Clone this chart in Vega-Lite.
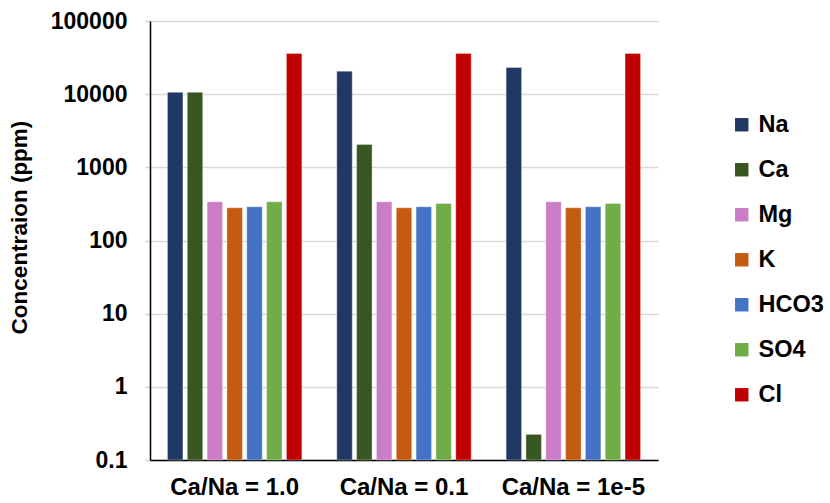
{
  "$schema": "https://vega.github.io/schema/vega-lite/v6.json",
  "autosize": "none",
  "width": 508,
  "height": 439,
  "padding": {"left": 150, "top": 21, "right": 172, "bottom": 43},
  "background": "white",
  "config": {
    "font": "Liberation Sans",
    "view": {"stroke": null}
  },
  "data": {
    "values": [
      {"ratio": "Ca/Na = 1.0", "ion": "Na", "ppm": 10600},
      {"ratio": "Ca/Na = 1.0", "ion": "Ca", "ppm": 10600},
      {"ratio": "Ca/Na = 1.0", "ion": "Mg", "ppm": 338},
      {"ratio": "Ca/Na = 1.0", "ion": "K", "ppm": 280},
      {"ratio": "Ca/Na = 1.0", "ion": "HCO3", "ppm": 289},
      {"ratio": "Ca/Na = 1.0", "ion": "SO4", "ppm": 338},
      {"ratio": "Ca/Na = 1.0", "ion": "Cl", "ppm": 36000},
      {"ratio": "Ca/Na = 0.1", "ion": "Na", "ppm": 20600},
      {"ratio": "Ca/Na = 0.1", "ion": "Ca", "ppm": 2055},
      {"ratio": "Ca/Na = 0.1", "ion": "Mg", "ppm": 338},
      {"ratio": "Ca/Na = 0.1", "ion": "K", "ppm": 280},
      {"ratio": "Ca/Na = 0.1", "ion": "HCO3", "ppm": 289},
      {"ratio": "Ca/Na = 0.1", "ion": "SO4", "ppm": 321},
      {"ratio": "Ca/Na = 0.1", "ion": "Cl", "ppm": 36000},
      {"ratio": "Ca/Na = 1e-5", "ion": "Na", "ppm": 23200},
      {"ratio": "Ca/Na = 1e-5", "ion": "Ca", "ppm": 0.224},
      {"ratio": "Ca/Na = 1e-5", "ion": "Mg", "ppm": 338},
      {"ratio": "Ca/Na = 1e-5", "ion": "K", "ppm": 280},
      {"ratio": "Ca/Na = 1e-5", "ion": "HCO3", "ppm": 289},
      {"ratio": "Ca/Na = 1e-5", "ion": "SO4", "ppm": 321},
      {"ratio": "Ca/Na = 1e-5", "ion": "Cl", "ppm": 36000}
    ]
  },
  "mark": {"type": "bar", "stroke": "#ffffff", "strokeOpacity": 0.35, "strokeWidth": 1},
  "encoding": {
    "x": {
      "field": "ratio",
      "type": "nominal",
      "sort": null,
      "scale": {"paddingInner": 0, "paddingOuter": 0},
      "axis": {
        "title": null,
        "labelAngle": 0,
        "labelFont": "Liberation Sans",
        "labelFontWeight": "bold",
        "labelFontSize": 24,
        "labelColor": "#000000",
        "labelPadding": 15,
        "ticks": false,
        "domainColor": "#000000",
        "domainWidth": 1.5,
        "grid": false
      }
    },
    "xOffset": {
      "field": "ion",
      "type": "nominal",
      "sort": null,
      "scale": {"paddingInner": 0.22, "paddingOuter": 0.88}
    },
    "y": {
      "field": "ppm",
      "type": "quantitative",
      "scale": {"type": "log", "domain": [0.1, 100000], "nice": false},
      "axis": {
        "title": "Concentraion (ppm)",
        "titleFont": "Liberation Sans",
        "titleFontWeight": "bold",
        "titleFontSize": 22.5,
        "titleColor": "#000000",
        "titlePadding": 0,
        "titleX": -124,
        "titleY": 206,
        "titleAngle": -90,
        "titleAlign": "center",
        "titleBaseline": "alphabetic",
        "values": [0.1, 1, 10, 100, 1000, 10000, 100000],
        "format": "~g",
        "labelFont": "Liberation Sans",
        "labelFontWeight": "bold",
        "labelFontSize": 23,
        "labelColor": "#000000",
        "labelPadding": 18,
        "tickSize": 5,
        "tickColor": "#d0d0d0",
        "tickWidth": 1.5,
        "domainColor": "#000000",
        "domainWidth": 1.5,
        "grid": true,
        "gridColor": "#d9d9d9",
        "gridWidth": 1.5
      }
    },
    "y2": {"datum": 0.1},
    "color": {
      "field": "ion",
      "type": "nominal",
      "sort": null,
      "scale": {
        "domain": ["Na", "Ca", "Mg", "K", "HCO3", "SO4", "Cl"],
        "range": ["#1f3864", "#38561f", "#cc7dc7", "#c55a11", "#4472c4", "#70ad47", "#c00000"]
      },
      "legend": {
        "title": null,
        "orient": "none",
        "legendX": 580,
        "legendY": 92,
        "padding": 0,
        "symbolType": "square",
        "symbolSize": 180,
        "symbolStrokeWidth": 0,
        "labelFont": "Liberation Sans",
        "labelFontWeight": "bold",
        "labelFontSize": 23.5,
        "labelColor": "#000000",
        "labelOffset": 5,
        "rowPadding": 20
      }
    }
  }
}
